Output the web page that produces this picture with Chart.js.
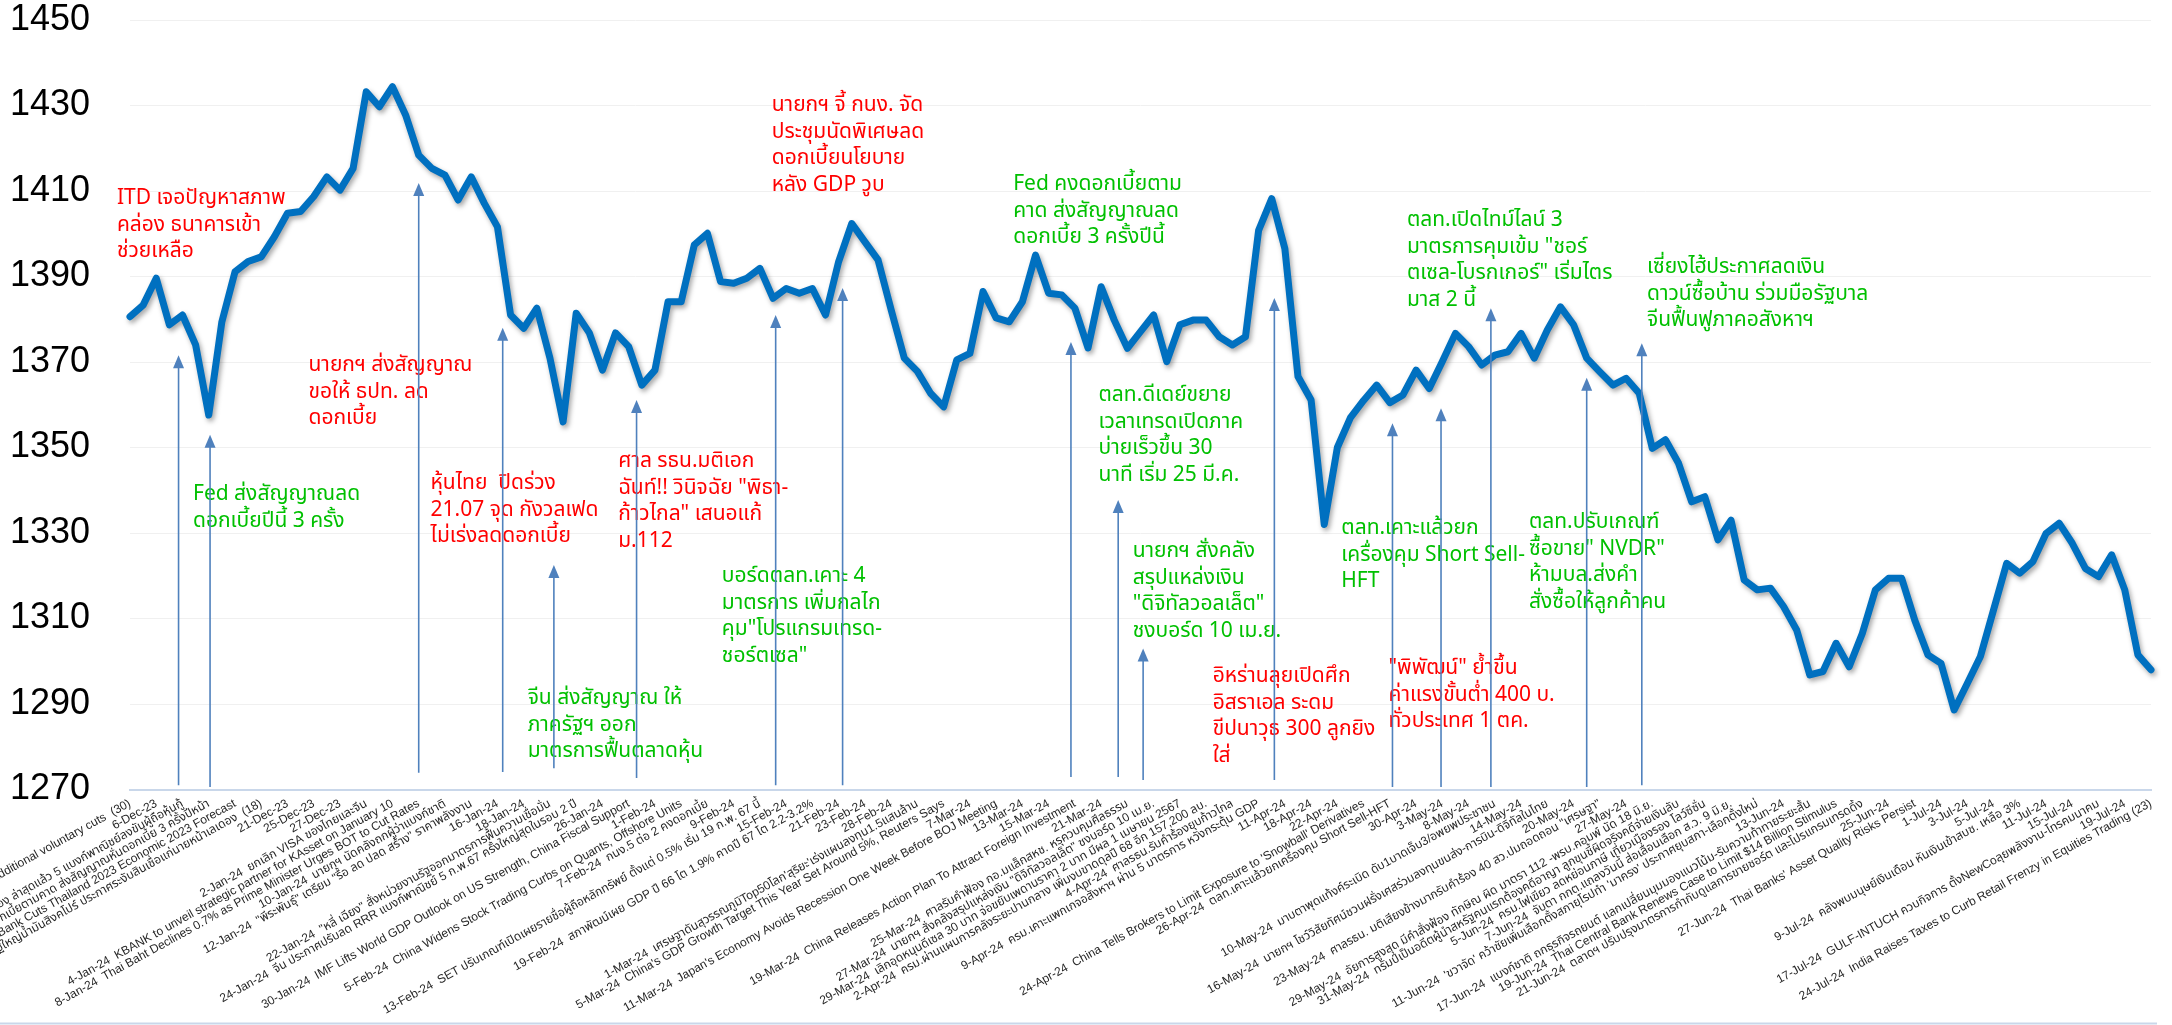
<!DOCTYPE html>
<html>
<head>
<meta charset="utf-8">
<script src="https://cdn.jsdelivr.net/npm/chart.js@4.4.1/dist/chart.umd.min.js"></script>
<style>
  html, body { margin: 0; padding: 0; background: #fff; }
  #wrap { width: 2172px; height: 1025px; position: relative; }
</style>
</head>
<body>
<div id="wrap"><canvas id="setChart" width="2172" height="1025"></canvas></div>
<script>
// Trading days per month (SET), Dec-23 .. Jul-24
const decDays = [1, 4, 6, 7, 8, 12, 13, 14, 15, 18, 19, 20, 21, 22, 25, 26, 27, 28];
const janDays = [2, 3, 4, 5, 8, 9, 10, 11, 12, 15, 16, 17, 18, 19, 22, 23, 24, 25, 26, 29, 30, 31];
const febDays = [1, 2, 5, 6, 7, 8, 9, 12, 13, 14, 15, 16, 19, 20, 21, 22, 23, 27, 28, 29];
const marDays = [1, 4, 5, 6, 7, 8, 11, 12, 13, 14, 15, 18, 19, 20, 21, 22, 25, 26, 27, 28, 29];
const aprDays = [1, 2, 3, 4, 5, 9, 10, 11, 17, 18, 19, 22, 23, 24, 25, 26, 29, 30];
const mayDays = [2, 3, 7, 8, 9, 10, 13, 14, 15, 16, 17, 20, 21, 23, 24, 27, 28, 29, 30, 31];
const junDays = [4, 5, 6, 7, 10, 11, 12, 13, 14, 17, 18, 19, 20, 21, 24, 25, 26, 27, 28];
const julDays = [1, 2, 3, 4, 5, 8, 9, 10, 11, 12, 15, 16, 17, 18, 19, 23, 24];

// SET index close
const setIndex = [
  1380.6, 1383.3, 1389.6, 1378.7, 1381.0, 1374.0, 1357.6, 1379.4, 1391.1, 1393.5,
  1394.6, 1399.3, 1404.8, 1405.2, 1408.7, 1413.3, 1410.2, 1415.3, 1433.2, 1429.7,
  1434.4, 1427.8, 1418.4, 1415.3, 1413.7, 1407.9, 1413.3, 1407.1, 1401.6, 1381.0,
  1377.9, 1382.6, 1370.9, 1356.0, 1381.4, 1376.8, 1368.1, 1376.8, 1373.6, 1364.6,
  1368.1, 1384.1, 1384.1, 1397.4, 1400.1, 1388.8, 1388.4, 1389.6, 1391.9, 1384.9,
  1387.2, 1386.1, 1387.2, 1381.0, 1393.5, 1402.4, 1398.1, 1393.9, 1382.2, 1370.9,
  1367.8, 1362.7, 1359.5, 1370.5, 1372.0, 1386.5, 1380.3, 1379.4, 1384.1, 1395.0,
  1386.1, 1385.7, 1382.6, 1373.3, 1387.6, 1379.8, 1373.2, 1377.1, 1381.0, 1370.1,
  1378.7, 1379.8, 1379.8, 1375.9, 1374.0, 1375.9, 1400.8, 1408.2, 1396.5, 1366.6,
  1361.1, 1332.0, 1350.0, 1357.0, 1361.0, 1364.6, 1360.5, 1362.3, 1368.1, 1363.8,
  1370.1, 1376.7, 1373.6, 1369.3, 1371.6, 1372.4, 1376.7, 1370.9, 1377.5, 1382.9,
  1378.7, 1370.9, 1367.7, 1364.6, 1366.2, 1362.7, 1349.8, 1351.8, 1346.3, 1337.3,
  1338.5, 1328.4, 1333.0, 1319.0, 1316.7, 1317.1, 1312.8, 1307.3, 1296.8, 1297.6,
  1304.2, 1298.7, 1306.5, 1316.7, 1319.4, 1319.4, 1309.6, 1301.5, 1299.5, 1288.6,
  1294.8, 1301.1, 1312.0, 1322.9, 1320.6, 1323.3, 1329.9, 1332.3, 1327.6, 1321.7,
  1319.8, 1324.9, 1316.7, 1301.5, 1298.0
];

const yTicks = [1270, 1290, 1310, 1330, 1350, 1370, 1390, 1410, 1430, 1450];

// news printed after the date on the axis
const headlines = {
  '1-Dec-23': 'OPEC+ agrees to additional voluntary cuts  (30)',
  '8-Dec-23': 'ITD ขาดสภาพคล่อง ล่าสุดแล้ว 5 แบงก์พาณิชย์ลงขันผู้ถือหุ้นกู้',
  '13-Dec-23': 'Fed คงดอกเบี้ยตามคาด ส่งสัญญาณหั่นดอกเบี้ย 3 ครั้งปีหน้า',
  '15-Dec-23': 'World Bank Cuts Thailand 2023 Economic 2023 Forecast',
  '19-Dec-23': 'มหาเศรษฐีใหญ่น้ำมันสิงคโปร์ ประกาศระงับสินเชื่อแก่นายหน้าเลเดอง  (18)',
  '2-Jan-24': 'ยกเลิก VISA ของไทยและจีน',
  '4-Jan-24': 'KBANK to unveil strategic partner for KAsset on January 10',
  '8-Jan-24': 'Thai Baht Declines 0.7% as Prime Minister Urges BOT to Cut Rates',
  '10-Jan-24': 'นายกฯ นัดคลังถกผู้ว่าแบงก์ชาติ',
  '12-Jan-24': '"พีระพันธุ์" เตรียม "รื้อ ลด ปลด สร้าง" ราคาพลังงาน',
  '22-Jan-24': '"หลี่ เฉียง" สั่งหน่วยงานรัฐออกมาตรการฟื้นความเชื่อมั่น',
  '24-Jan-24': 'จีน ประกาศปรับลด RRR แบงก์พาณิชย์ 5 ก.พ.67 ครั้งใหญ่สุดในรอบ 2 ปี',
  '30-Jan-24': 'IMF Lifts World GDP Outlook on US Strength, China Fiscal Support',
  '5-Feb-24': 'China Widens Stock Trading Curbs on Quants, Offshore Units',
  '7-Feb-24': 'กนง.5 ต่อ 2 คงดอกเบี้ย',
  '13-Feb-24': 'SET ปรับเกณฑ์เปิดเผยรายชื่อผู้ถือหลักทรัพย์ ตั้งแต่ 0.5% เริ่ม 19 ก.พ. 67 นี้',
  '19-Feb-24': 'สภาพัฒน์เผย GDP ปี 66 โต 1.9% คาดปี 67 โต 2.2-3.2%',
  '1-Mar-24': "เศรษฐาดันสุวรรณภูมิTop50โลก'สุริยะ'เร่งแผนลงทุน1.5แสนล้าน",
  '5-Mar-24': "China's GDP Growth Target This Year Set Around 5%, Reuters Says",
  '11-Mar-24': "Japan's Economy Avoids Recession One Week Before BOJ Meeting",
  '19-Mar-24': 'China Releases Action Plan To Attract Foreign Investment',
  '25-Mar-24': 'ศาลรับคำฟ้อง กอ.มแล็กสหช. หรุควบคุมศีลธรรม',
  '27-Mar-24': 'นายกฯ สั่งคลังสรุปแหล่งเงิน "ดิจิทัลวอลเล็ต" ชงบอร์ด 10 เม.ย.',
  '29-Mar-24': 'เลิกอุดหนุนดีเซล 30 บาท จ่อขยับเพดานราคา 2 บาท มีผล 1 เมษายน 2567',
  '2-Apr-24': 'ครม.ผ่านแผนการคลังระยะปานกลาง เพิ่มงบขาดดุลปี 68 อีก 157,200 ลบ.',
  '4-Apr-24': 'ศาลรธน.รับคำร้องยุบก้าวไกล',
  '9-Apr-24': 'ครม.เคาะแพกเกจอสังหาฯ ผ่าน 5 มาตรการ หวังกระตุ้น GDP',
  '24-Apr-24': "China Tells Brokers to Limit Exposure to 'Snowball' Derivatives",
  '26-Apr-24': 'ตลท.เคาะแล้วยกเครื่องคุม Short Sell-HFT',
  '10-May-24': 'มาบตาพุดแท้งค์ระเบิด ดับ1บาดเจ็บ3/อพยพประชาชน',
  '16-May-24': 'นายกฯ โชว์วิสัยทัศน์ชวนฝรั่งเศสร่วมลงทุนขนส่ง-การบิน-ดิจิทัลในไทย',
  '23-May-24': 'ศาลรธน. มติเสียงข้างมากรับคำร้อง 40 สว.ปมถอดถอน "เศรษฐา"',
  '29-May-24': 'อัยการสูงสุด มีคำสั่งฟ้อง ทักษิณ ผิด มาตรา 112 -พรบ.คอมพ์ นัด 18 มิ.ย.',
  '31-May-24': 'ทรัมป์เป็นอดีตผู้นำสหรัฐคนแรกต้องคดีอาญา ลูกขุนชี้ผิดจริงคดีจ่ายเงินลับ',
  '5-Jun-24': 'ครม.ไฟเขียว ลดหย่อนภาษี เที่ยวเมืองรอง โลว์ซีซั่น',
  '7-Jun-24': 'จับตา กกต.แถลงวันนี้ ส่อเลื่อนเลือก ส.ว. 9 มิ.ย.',
  '11-Jun-24': "'ขวาจัด' คว้าชัยเพิ่มเลือกตั้งสภายุโรปทำ 'มาครง' ประกาศยุบสภา-เลือกตั้งใหม่",
  '17-Jun-24': 'แบงก์ชาติ ถกธุรกิจรถยนต์ แลกเปลี่ยนมุมมองแนวโน้ม-รับความท้าทายระยะสั้น',
  '19-Jun-24': 'Thai Central Bank Renews Case to Limit $14 Billion Stimulus',
  '21-Jun-24': 'ตลาดฯ ปรับปรุงมาตรการกำกับดูแลการขายชอร์ต และโปรแกรมเทรดดิ้ง',
  '27-Jun-24': "Thai Banks' Asset Quality Risks Persist",
  '9-Jul-24': 'คลังพบมนุษย์เงินเดือน หันเงินเข้าสบช. เหลือ 3%',
  '17-Jul-24': 'GULF-INTUCH ควบกิจการ ตั้งNewCoลุยพลังงาน-โทรคมนาคม',
  '24-Jul-24': 'India Raises Taxes to Curb Retail Frenzy in Equities Trading (23)'
};

// callout text blocks, anchored at (point index, index level)
const callouts = [
  { at: -1.0, level: 1407.9, tone: 'bad', lines: ['ITD เจอปัญหาสภาพ', 'คล่อง ธนาคารเข้า', 'ช่วยเหลือ'] },
  { at: 13.6, level: 1368.8, tone: 'bad', lines: ['นายกฯ ส่งสัญญาณ', 'ขอให้ ธปท. ลด', 'ดอกเบี้ย'] },
  { at: 4.8, level: 1338.6, tone: 'good', lines: ['Fed ส่งสัญญาณลด', 'ดอกเบี้ยปีนี้ 3 ครั้ง'] },
  { at: 22.9, level: 1341.2, tone: 'bad', lines: ['หุ้นไทย  ปิดร่วง', '21.07 จุด กังวลเฟด', 'ไม่เร่งลดดอกเบี้ย'] },
  { at: 37.2, level: 1346.4, tone: 'bad', lines: ['ศาล รธน.มติเอก', 'ฉันท์!! วินิจฉัย "พิธา-', 'ก้าวไกล" เสนอแก้', 'ม.112'] },
  { at: 30.3, level: 1290.9, tone: 'good', lines: ['จีน ส่งสัญญาณ ให้', 'ภาครัฐฯ ออก', 'มาตรการฟื้นตลาดหุ้น'] },
  { at: 48.9, level: 1429.6, tone: 'bad', lines: ['นายกฯ จี้ กนง. จัด', 'ประชุมนัดพิเศษลด', 'ดอกเบี้ยนโยบาย', 'หลัง GDP วูบ'] },
  { at: 67.3, level: 1411.2, tone: 'good', lines: ['Fed คงดอกเบี้ยตาม', 'คาด ส่งสัญญาณลด', 'ดอกเบี้ย 3 ครั้งปีนี้'] },
  { at: 73.8, level: 1361.8, tone: 'good', lines: ['ตลท.ดีเดย์ขยาย', 'เวลาเทรดเปิดภาค', 'บ่ายเร็วขึ้น 30', 'นาที เริ่ม 25 มี.ค.'] },
  { at: 45.1, level: 1319.5, tone: 'good', lines: ['บอร์ดตลท.เคาะ 4', 'มาตรการ เพิ่มกลไก', 'คุม"โปรแกรมเทรด-', 'ชอร์ตเซล"'] },
  { at: 76.4, level: 1325.3, tone: 'good', lines: ['นายกฯ สั่งคลัง', 'สรุปแหล่งเงิน', '"ดิจิทัลวอลเล็ต"', 'ชงบอร์ด 10 เม.ย.'] },
  { at: 82.5, level: 1296.1, tone: 'bad', lines: ['อิหร่านลุยเปิดศึก', 'อิสราเอล ระดม', 'ขีปนาวุธ 300 ลูกยิง', 'ใส่'] },
  { at: 92.3, level: 1330.7, tone: 'good', lines: ['ตลท.เคาะแล้วยก', 'เครื่องคุม Short Sell-', 'HFT'] },
  { at: 95.9, level: 1298.0, tone: 'bad', lines: ['"พิพัฒน์" ย้ำขึ้น', 'ค่าแรงขั้นต่ำ 400 บ.', 'ทั่วประเทศ 1 ตค.'] },
  { at: 97.3, level: 1402.7, tone: 'good', lines: ['ตลท.เปิดไทม์ไลน์ 3', 'มาตรการคุมเข้ม "ชอร์', 'ตเซล-โบรกเกอร์" เริ่มไตร', 'มาส 2 นี้'] },
  { at: 106.6, level: 1332.1, tone: 'good', lines: ['ตลท.ปรับเกณฑ์', 'ซื้อขาย" NVDR"', 'ห้ามบล.ส่งคำ', 'สั่งซื้อให้ลูกค้าคน'] },
  { at: 115.6, level: 1391.8, tone: 'good', lines: ['เซี่ยงไฮ้ประกาศลดเงิน', 'ดาวน์ซื้อบ้าน ร่วมมือรัฐบาล', 'จีนฟื้นฟูภาคอสังหาฯ'] }
];

// event arrows: position (point index), tip level and foot level
const arrowAt   = [3.7, 6.1, 22.0, 28.4, 32.3, 38.6, 49.2, 54.3, 71.7, 75.3, 77.2, 87.2, 96.2, 99.9, 103.7, 111.0, 115.2];
const arrowTip  = [1371.6, 1353.0, 1411.9, 1378.0, 1322.5, 1361.1, 1381.0, 1387.3, 1374.7, 1337.7, 1303.0, 1385.0, 1355.7, 1359.2, 1382.6, 1366.3, 1374.4];
const arrowFoot = [1271.0, 1270.6, 1273.9, 1274.1, 1275.0, 1272.7, 1271.0, 1271.0, 1272.9, 1272.9, 1272.2, 1272.2, 1270.6, 1270.6, 1270.6, 1270.6, 1271.0];

const monthDays = [['Dec-23', decDays], ['Jan-24', janDays], ['Feb-24', febDays], ['Mar-24', marDays],
                   ['Apr-24', aprDays], ['May-24', mayDays], ['Jun-24', junDays], ['Jul-24', julDays]];
const dates = monthDays.flatMap(([m, days]) => days.map(d => d + '-' + m));

const thaiFont = "Tahoma, 'Noto Sans Thai', 'Noto Sans Thai UI', Loma, Garuda, 'Liberation Sans', sans-serif";
const toneColor = { bad: '#ff0000', good: '#00c000' };

// soft shadow under the index line
const lineShadow = {
    id: 'lineShadow',
    beforeDatasetDraw(chart) {
        const ctx = chart.ctx;
        ctx.save();
        ctx.shadowColor = 'rgba(0,0,0,0.35)';
        ctx.shadowBlur = 5;
        ctx.shadowOffsetX = 2;
        ctx.shadowOffsetY = 3;
    },
    afterDatasetDraw(chart) {
        chart.ctx.restore();
    }
};

const eventNotes = {
    id: 'eventNotes',
    beforeDatasetsDraw(chart) {
        const { ctx, scales: { x, y } } = chart;
        ctx.save();
        ctx.font = '21px ' + thaiFont;
        ctx.textBaseline = 'middle';
        ctx.textAlign = 'left';
        callouts.forEach(c => {
            const px = x.getPixelForValue(c.at);
            const py = y.getPixelForValue(c.level);
            ctx.fillStyle = toneColor[c.tone];
            c.lines.forEach((line, k) => ctx.fillText(line, px, py + k * 26.5));
        });
        ctx.restore();
    },
    afterDatasetsDraw(chart) {
        const { ctx, scales: { x, y } } = chart;
        ctx.save();
        ctx.strokeStyle = '#4f81bd';
        ctx.fillStyle = '#4f81bd';
        ctx.lineWidth = 1.6;
        arrowAt.forEach((at, k) => {
            const px = x.getPixelForValue(at);
            const tip = y.getPixelForValue(arrowTip[k]);
            const foot = y.getPixelForValue(arrowFoot[k]);
            ctx.beginPath();
            ctx.moveTo(px, foot);
            ctx.lineTo(px, tip + 10);
            ctx.stroke();
            ctx.beginPath();
            ctx.moveTo(px, tip);
            ctx.lineTo(px - 5.5, tip + 13);
            ctx.lineTo(px + 5.5, tip + 13);
            ctx.closePath();
            ctx.fill();
        });
        ctx.restore();
    },
    afterDraw(chart) {
        const ctx = chart.ctx;
        ctx.save();
        ctx.strokeStyle = '#c9d7ea';
        ctx.lineWidth = 2;
        ctx.beginPath();
        ctx.moveTo(0, chart.height - 1.5);
        ctx.lineTo(chart.chartArea.right + 6, chart.height - 1.5);
        ctx.stroke();
        ctx.restore();
    }
};

new Chart(document.getElementById('setChart'), {
    type: 'line',
    data: {
        labels: dates,
        datasets: [{
            label: 'SET',
            data: setIndex,
            borderColor: '#0070c0',
            borderWidth: 7,
            borderJoinStyle: 'round',
            borderCapStyle: 'round',
            pointRadius: 0,
            tension: 0,
            fill: false,
            clip: 10
        }]
    },
    options: {
        responsive: false,
        animation: false,
        layout: { padding: { left: 0, top: 20, right: 21, bottom: 0 } },
        plugins: {
            legend: { display: false },
            tooltip: { enabled: false }
        },
        scales: {
            x: {
                offset: false,
                grid: { display: false, drawTicks: false },
                border: { display: true, color: '#c9d7ea', width: 2 },
                ticks: {
                    autoSkip: false,
                    minRotation: 29,
                    maxRotation: 29,
                    padding: 7,
                    color: '#262626',
                    font: { size: 12, family: "'Liberation Sans', " + thaiFont },
                    callback: (value, index) => {
                        if (index % 2) return '';
                        const d = dates[index];
                        return headlines[d] ? d + '  ' + headlines[d] : d;
                    }
                },
                afterFit: scale => {
                    scale.height = 235.5;
                    scale.paddingLeft = 0;
                    scale.paddingRight = 0;
                }
            },
            y: {
                min: 1270,
                max: 1450,
                grid: { color: '#f0f0f0', lineWidth: 1, drawTicks: false },
                border: { display: false },
                ticks: {
                    padding: 40,
                    color: '#000',
                    font: { size: 36, family: "'Liberation Sans', sans-serif" },
                    callback: value => String(value)
                },
                afterBuildTicks: scale => {
                    scale.ticks = yTicks.map(v => ({ value: v }));
                },
                afterFit: scale => {
                    scale.width = 130;
                    scale.paddingTop = 0;
                    scale.paddingBottom = 0;
                }
            }
        }
    },
    plugins: [lineShadow, eventNotes]
});
</script>
</body>
</html>
